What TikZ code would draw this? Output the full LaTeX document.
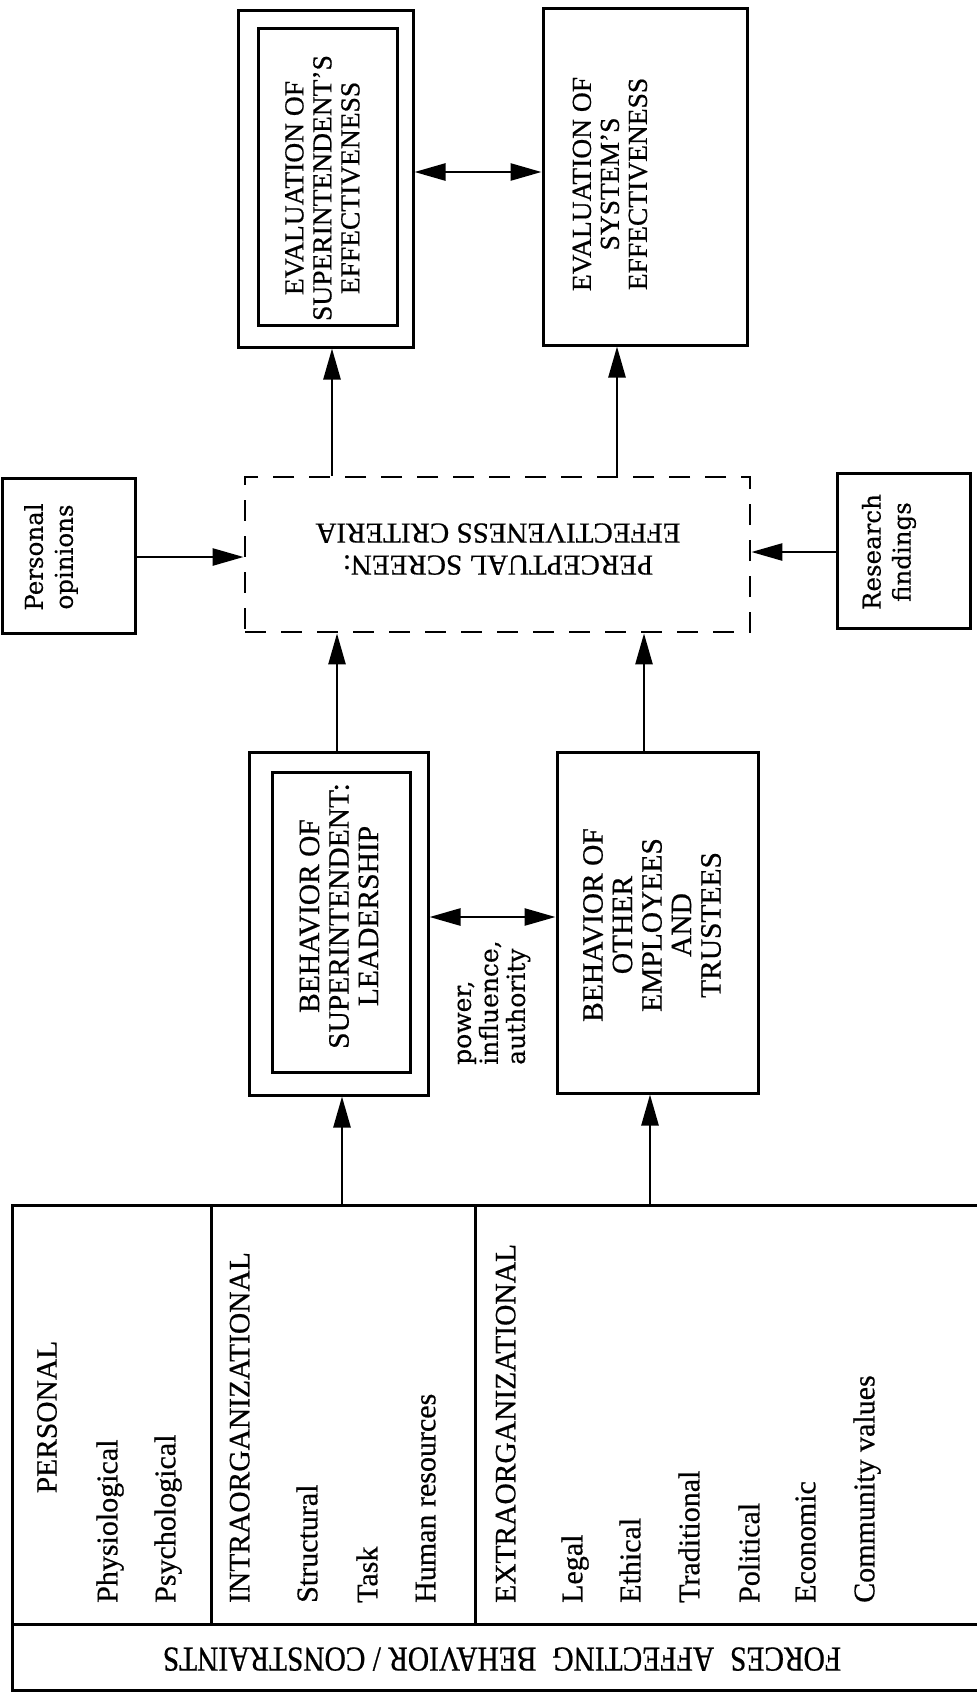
\documentclass[tikz,border=0pt]{standalone}
\usepackage{fontspec}
\setmainfont{Liberation Serif}[FakeBold=0.6]
\newfontfamily\centfont{DejaVu Serif}[FakeBold=0.4]
\newfontfamily\condfont{Liberation Serif}[FakeStretch=0.84,FakeBold=0.6]
\usetikzlibrary{arrows.meta,calc}
\begin{document}
\begin{tikzpicture}[x=1pt,y=-1pt,
  box/.style={draw, line width=3pt, inner sep=0pt},
  dbox/.style={draw, line width=2.8pt, dash pattern=on 21pt off 15pt, inner sep=0pt},
  arr/.style={line width=2.6pt, -{Triangle[length=31pt,width=17pt]}},
  darr/.style={line width=2.6pt, {Triangle[length=31pt,width=17pt]}-{Triangle[length=31pt,width=17pt]}},
  toptxt/.style={rotate=90, align=center, inner sep=0pt, font=\fontsize{27.5}{28}\selectfont},
  midtxt/.style={rotate=90, align=center, inner sep=0pt, font=\fontsize{29.5}{29.5}\selectfont},
  sidetxt/.style={rotate=90, align=center, inner sep=0pt, font=\centfont\fontsize{24.5}{30}\selectfont},
  head/.style={rotate=90, anchor=mid west, inner sep=0pt, font=\fontsize{29.5}{30}\selectfont},
  item/.style={rotate=90, anchor=mid west, inner sep=0pt, font=\fontsize{30}{30}\selectfont},
  rule/.style={line width=3pt}
]
\useasboundingbox (0,0) rectangle (977,1695);

% ---- top row
\node[box, minimum width=175pt, minimum height=337pt] (Aout) at (325.5,178.5) {};
\node[box, minimum width=139pt, minimum height=297pt] (Ain) at (327.5,176.5) {};
\node[toptxt] (Atxt) at (322.5,188) {EVALUATION OF\\SUPERINTENDENT'S\\EFFECTIVENESS};
\node[box, minimum width=204pt, minimum height=337pt] (B) at (645,176.5) {};
\node[toptxt] (Btxt) at (610,184) {EVALUATION OF\\SYSTEM'S\\EFFECTIVENESS};
\coordinate (yab) at (0,172);
\draw[darr] (Aout.east |- yab) -- (B.west |- yab);

% ---- perceptual screen row
\node[dbox, minimum width=505pt, minimum height=155pt] (S) at (497.5,554.5) {};
\node[rotate=180, align=center, inner sep=0pt, font=\fontsize{29}{32}\selectfont] (Stxt) at (498,549) {PERCEPTUAL SCREEN:\\EFFECTIVENESS CRITERIA};
\node[box, minimum width=133pt, minimum height=155pt] (P) at (68.5,555.5) {};
\node[sidetxt] (Ptxt) at (51,557) {Personal\\opinions};
\node[box, minimum width=133pt, minimum height=155pt] (R) at (903.5,550.5) {};
\node[sidetxt] (Rtxt) at (889,552) {Research\\findings};
\coordinate (yp) at (0,557);
\coordinate (yr) at (0,552);
\draw[arr] (P.east |- yp) -- (S.west |- yp);
\draw[arr] (R.west |- yr) -- (S.east |- yr);
\coordinate (xa) at (332,0);
\coordinate (xb) at (617,0);
\draw[arr] (S.north -| xa) -- (Aout.south -| xa);
\draw[arr] (S.north -| xb) -- (B.south -| xb);

% ---- behaviour row
\node[box, minimum width=179pt, minimum height=343pt] (Cout) at (338.5,923.5) {};
\node[box, minimum width=138pt, minimum height=300pt] (Cin) at (341,922) {};
\node[midtxt] (Ctxt) at (339,916) {BEHAVIOR OF\\SUPERINTENDENT:\\LEADERSHIP};
\node[box, minimum width=201pt, minimum height=341pt] (D) at (657.5,922.5) {};
\node[midtxt] (Dtxt) at (652,925) {BEHAVIOR OF\\OTHER\\EMPLOYEES\\AND\\TRUSTEES};
\coordinate (ycd) at (0,917);
\draw[darr] (Cout.east |- ycd) -- (D.west |- ycd);
\node[rotate=90, anchor=west, align=left, inner sep=0pt, font=\centfont\fontsize{25}{27}\selectfont] (pow) at (494,1065) {power,\\influence,\\authority};
\coordinate (xc) at (337,0);
\coordinate (xd) at (644,0);
\draw[arr] (Cout.north -| xc) -- (S.south -| xc);
\draw[arr] (D.north -| xd) -- (S.south -| xd);

% ---- forces box
\node[inner sep=0pt, minimum width=965pt, minimum height=419pt] (F) at (494.5,1414.5) {};
\draw[rule] (977,1205) -- (12,1205) -- (12,1690) -- (977,1690);
\draw[rule] (12,1624) -- (977,1624);
\draw[rule] (211,1205) -- (211,1624);
\draw[rule] (475,1205) -- (475,1624);
\coordinate (xfc) at (342,0);
\coordinate (xfd) at (650,0);
\draw[arr] (F.north -| xfc) -- (Cout.south -| xfc);
\draw[arr] (F.north -| xfd) -- (D.south -| xfd);

\node[rotate=90, inner sep=0pt, font=\fontsize{29.5}{30}\selectfont] (pers) at (47,1417) {PERSONAL};
\node[item] (i1) at (115,1603) {Physiological};
\node[item] (i2) at (173,1603) {Psychological};
\node[head] (intra) at (247,1603) {INTRAORGANIZATIONAL};
\node[item] (i3) at (315,1603) {Structural};
\node[item] (i4) at (375,1603) {Task};
\node[item] (i5) at (433,1603) {Human resources};
\node[head] (extra) at (513,1603) {EXTRAORGANIZATIONAL};
\node[item] (i6) at (580,1603) {Legal};
\node[item] (i7) at (638,1603) {Ethical};
\node[item] (i8) at (697,1603) {Traditional};
\node[item] (i9) at (757,1603) {Political};
\node[item] (i10) at (813,1603) {Economic};
\node[item] (i11) at (872,1603) {Community values};

\node[rotate=180, inner sep=0pt, font=\condfont\fontsize{35}{36}\selectfont] (forcestxt) at (502,1659) {FORCES\hspace{16pt}AFFECTING\hspace{16pt}BEHAVIOR / CONSTRAINTS};
\end{tikzpicture}
\end{document}
